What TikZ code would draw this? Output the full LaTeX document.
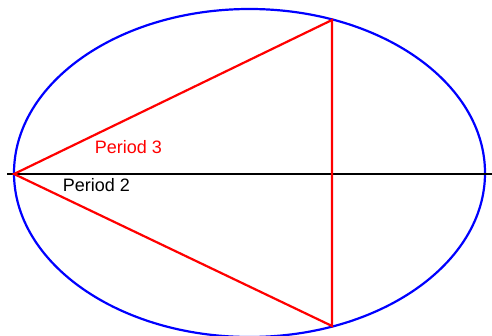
\documentclass[tikz,border=0pt]{standalone}
\usepackage{fontspec}
\setmainfont{Liberation Sans}
\begin{document}
\begin{tikzpicture}[x=1pt,y=-1pt,
  ell/.style={draw=blue, line width=2.2pt},
  axis/.style={draw=black, line width=2.5pt},
  tri/.style={draw=red, line width=2.2pt, line join=miter},
  lbl/.style={font=\fontsize{18}{21}\selectfont, inner sep=0pt}]
\useasboundingbox (0,0) rectangle (492,336);
\fill[white] (0,0) rectangle (492,336);
\coordinate (C) at (249.5,173);
\coordinate (L) at (14,174);
\coordinate (T) at (332,20);
\coordinate (B) at (332,326);
\coordinate (A1) at (7,174);
\coordinate (A2) at (492,174);
\draw[ell] (C) ellipse [x radius=235.5, y radius=164];
\draw[axis] (A1) -- (A2);
\draw[tri] (L) -- (T) -- (B) -- cycle;
\node[lbl, text=red] (p3) at (128.5,147) {Period 3};
\node[lbl, text=black] (p2) at (96.5,185.5) {Period 2};
\end{tikzpicture}
\end{document}
